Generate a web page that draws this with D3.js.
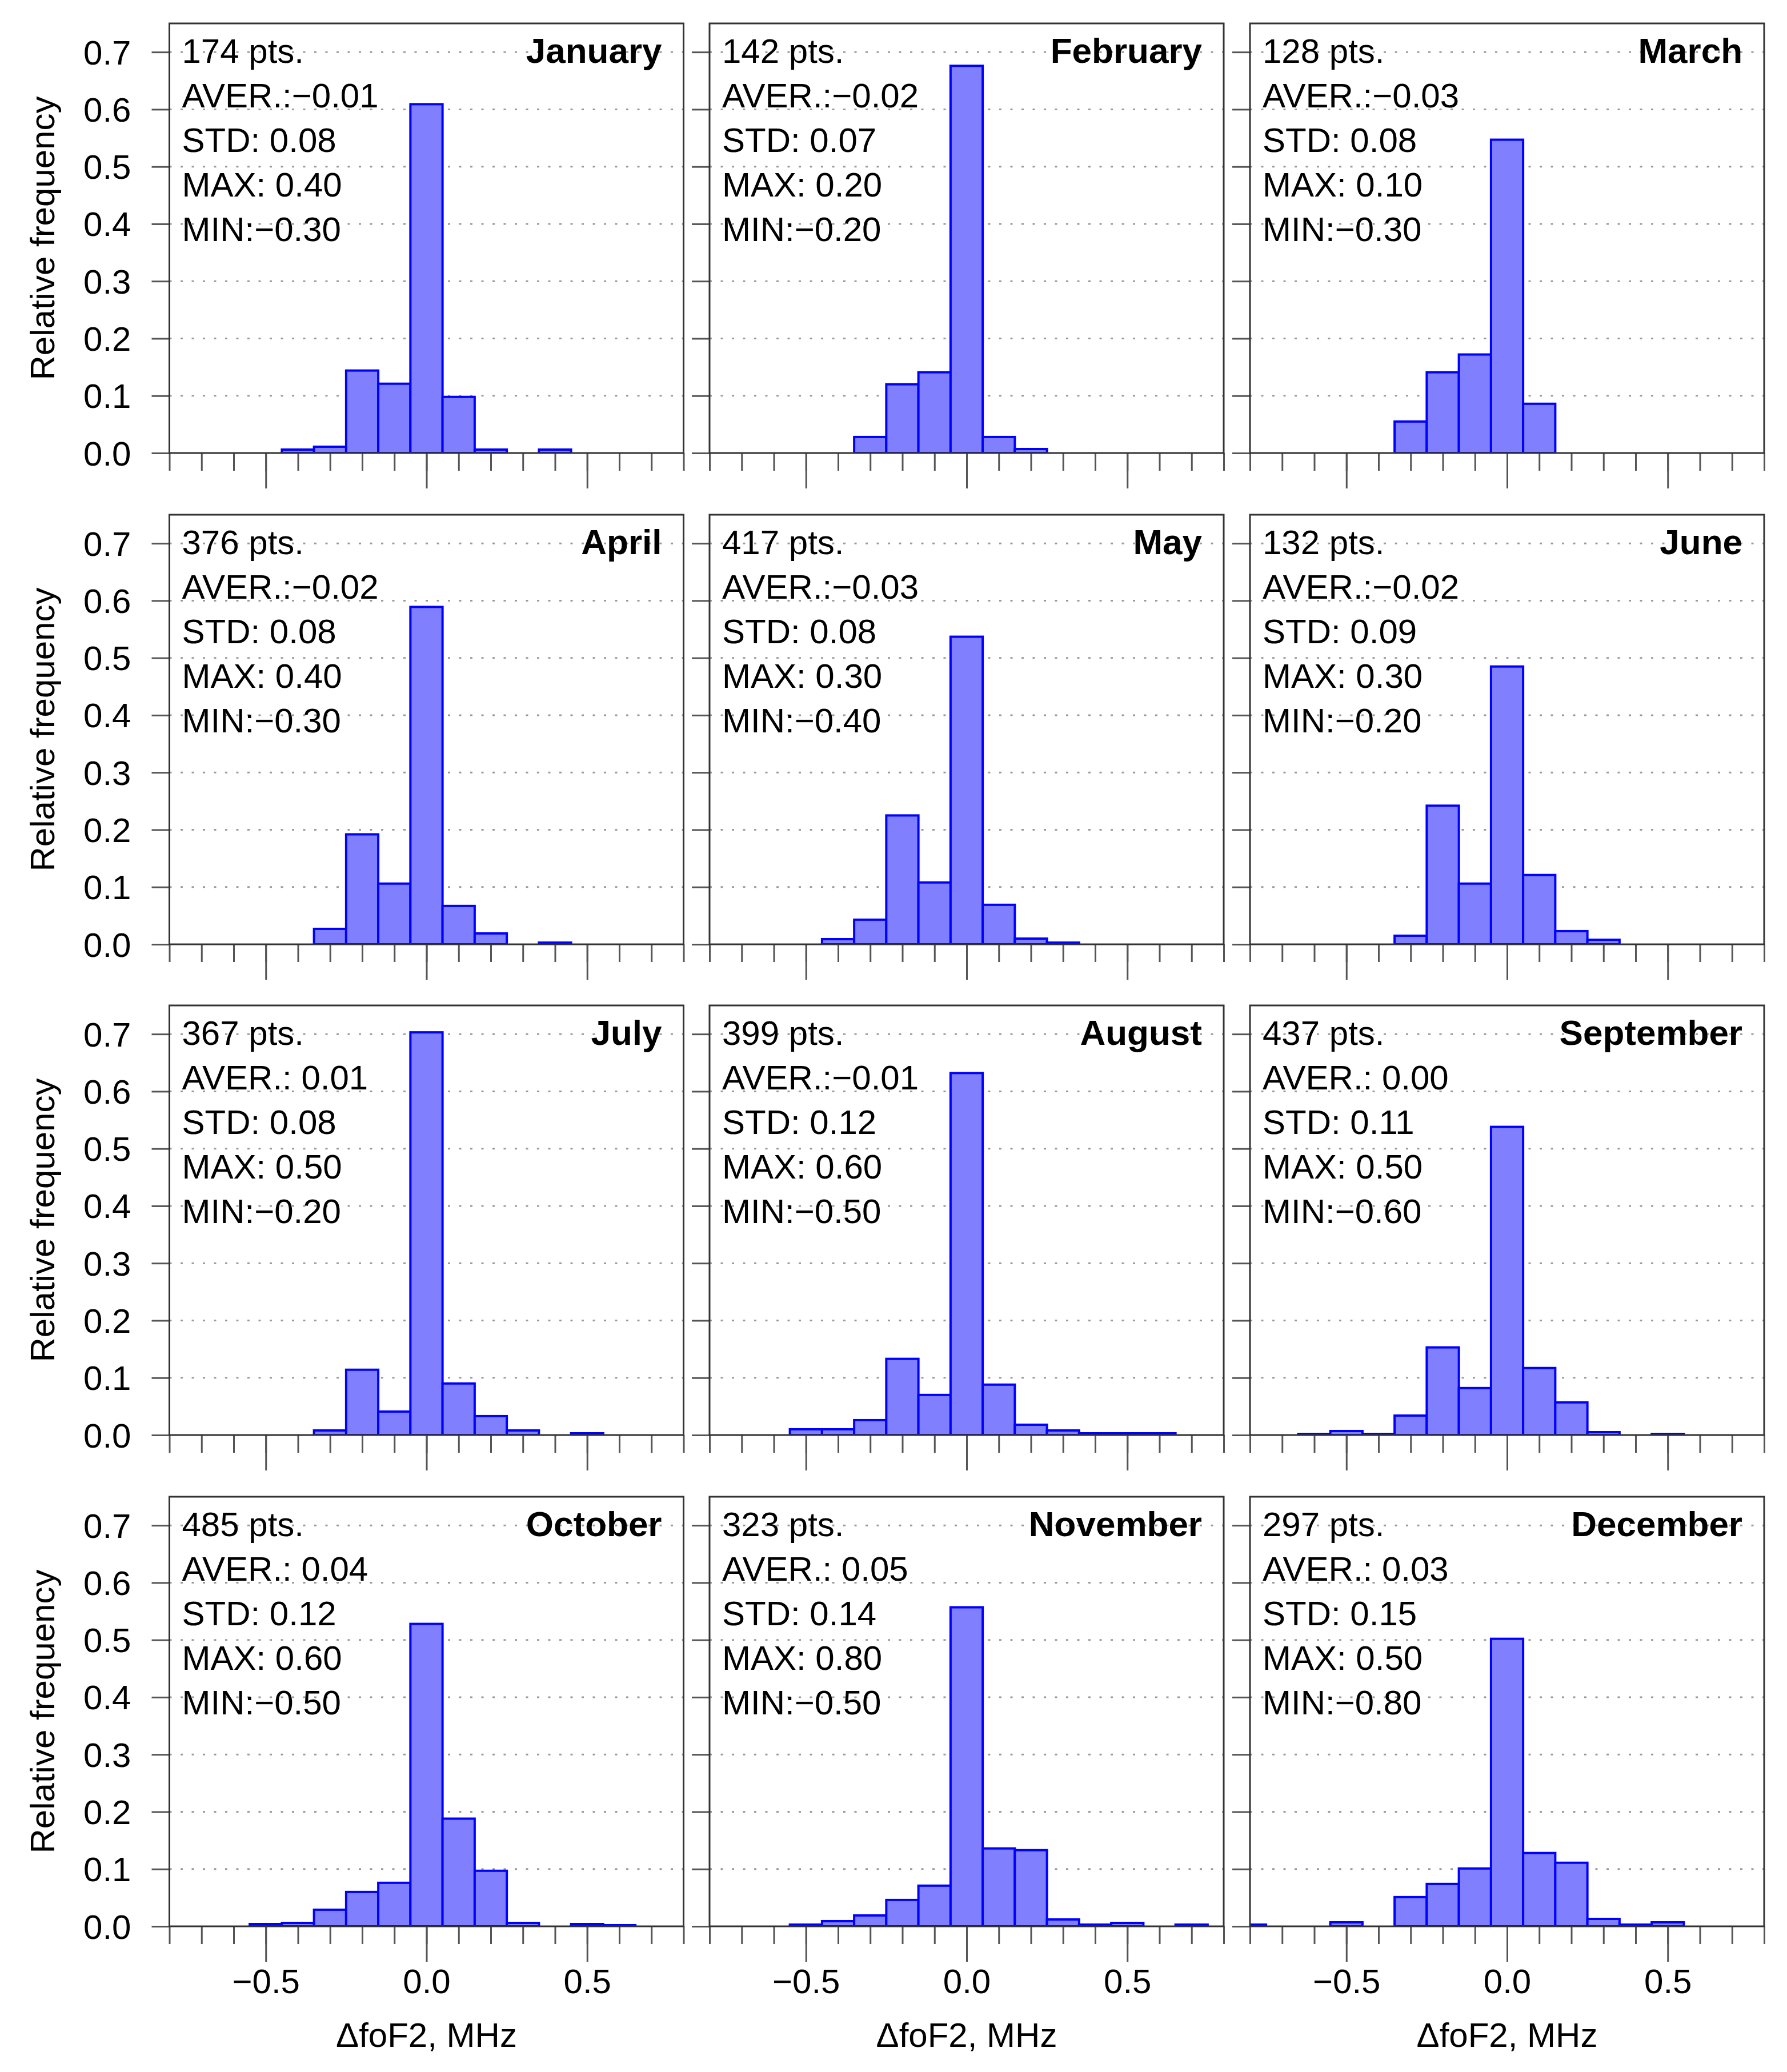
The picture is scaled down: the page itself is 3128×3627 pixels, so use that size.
<!DOCTYPE html>
<html>
<head>
<meta charset="utf-8">
<script src="https://cdn.jsdelivr.net/npm/d3@7"></script>
<style>
  html, body { margin: 0; padding: 0; background: #ffffff; }
  svg { display: block; font-family: "Liberation Sans", Arial, Helvetica, sans-serif; }
</style>
</head>
<body>
<svg id="chart" width="3128" height="3627"></svg>
<script>
// ---------------- DATA ----------------
const months = ["January","February","March","April","May","June",
                "July","August","September","October","November","December"];
const pts  = [174,142,128,376,417,132,367,399,437,485,323,297];
const aver = [-0.01,-0.02,-0.03,-0.02,-0.03,-0.02,0.01,-0.01,0.00,0.04,0.05,0.03];
const stdv = [0.08,0.07,0.08,0.08,0.08,0.09,0.08,0.12,0.11,0.12,0.14,0.15];
const maxv = [0.40,0.20,0.10,0.40,0.30,0.30,0.50,0.60,0.50,0.60,0.80,0.50];
const minv = [-0.30,-0.20,-0.30,-0.30,-0.40,-0.20,-0.20,-0.50,-0.60,-0.50,-0.50,-0.80];

// histogram bin centres (MHz), bin width 0.1
const binCenters = [-0.8,-0.7,-0.6,-0.5,-0.4,-0.3,-0.2,-0.1,0.0,0.1,0.2,0.3,0.4,0.5,0.6,0.7,0.8];
const binWidth = 0.1;

// relative frequency per bin, one array per month
const freqJan = [0,0,0,0,0.006,0.011,0.144,0.121,0.609,0.098,0.006,0,0.006,0,0,0,0];
const freqFeb = [0,0,0,0,0,0.028,0.120,0.141,0.676,0.028,0.007,0,0,0,0,0,0];
const freqMar = [0,0,0,0,0,0.055,0.141,0.172,0.547,0.086,0,0,0,0,0,0,0];
const freqApr = [0,0,0,0,0,0.027,0.192,0.106,0.589,0.067,0.019,0,0.003,0,0,0,0];
const freqMay = [0,0,0,0,0.009,0.043,0.225,0.108,0.537,0.069,0.010,0.003,0,0,0,0,0];
const freqJun = [0,0,0,0,0,0.015,0.242,0.106,0.485,0.121,0.023,0.008,0,0,0,0,0];
const freqJul = [0,0,0,0,0,0.008,0.114,0.041,0.703,0.090,0.033,0.008,0,0.003,0,0,0];
const freqAug = [0,0,0,0.010,0.010,0.026,0.133,0.070,0.632,0.088,0.018,0.008,0.003,0.003,0.003,0,0];
const freqSep = [0,0,0.002,0.007,0.002,0.034,0.153,0.082,0.538,0.117,0.057,0.005,0,0.002,0,0,0];
const freqOct = [0,0,0,0.004,0.006,0.029,0.060,0.076,0.528,0.188,0.097,0.006,0,0.004,0.002,0,0];
const freqNov = [0,0,0,0.003,0.009,0.019,0.046,0.071,0.557,0.136,0.133,0.012,0.003,0.006,0,0.003,0];
const freqDec = [0.003,0,0,0.007,0,0.051,0.074,0.101,0.502,0.128,0.111,0.013,0.003,0.007,0,0,0];
const freqs = [freqJan,freqFeb,freqMar,freqApr,freqMay,freqJun,freqJul,freqAug,freqSep,freqOct,freqNov,freqDec];

// axes
const xDomain = [-0.8, 0.8];
const yDomain = [0, 0.75];
const xMinorTicks = [-0.8,-0.7,-0.6,-0.5,-0.4,-0.3,-0.2,-0.1,0.0,0.1,0.2,0.3,0.4,0.5,0.6,0.7,0.8];
const xMajorTicks = [-0.5, 0.0, 0.5];
const yTicks = [0.0,0.1,0.2,0.3,0.4,0.5,0.6,0.7];
const yLabel = "Relative frequency";
const xLabel = "ΔfoF2, MHz";

// ---------------- LAYOUT ----------------
const colLeft = [296.5, 1242, 2188];
const rowTop  = [41, 901, 1760, 2620];
const panelW = 900, panelH = 752;
const FS = 60;

const svg = d3.select("#chart");
const defs = svg.append("defs");

const fmtStat = v => (v < 0 ? "\u2212" : " ") + Math.abs(v).toFixed(2);

months.forEach((m, i) => {
  const r = Math.floor(i / 3), c = i % 3;
  const left = colLeft[c], top = rowTop[r];
  const right = left + panelW, bottom = top + panelH;

  const x = d3.scaleLinear().domain(xDomain).range([left, right]);
  const y = d3.scaleLinear().domain(yDomain).range([bottom, top]);

  const g = svg.append("g");

  // clip
  const cid = "clip" + i;
  defs.append("clipPath").attr("id", cid)
    .append("rect").attr("x", left).attr("y", top).attr("width", panelW).attr("height", panelH);

  // grid (dotted)
  g.append("g").selectAll("line").data(yTicks.filter(t => t > 0)).join("line")
    .attr("x1", left).attr("x2", right)
    .attr("y1", d => y(d)).attr("y2", d => y(d))
    .attr("stroke", "#9a9a9a").attr("stroke-width", 3)
    .attr("stroke-dasharray", "4,15.5");

  // bars
  const bins = binCenters.map((b, k) => ({c: b, f: freqs[i][k]})).filter(d => d.f > 0);
  g.append("g").attr("clip-path", `url(#${cid})`)
    .selectAll("rect").data(bins).join("rect")
    .attr("x", d => x(d.c - binWidth / 2))
    .attr("width", d => x(d.c + binWidth / 2) - x(d.c - binWidth / 2))
    .attr("y", d => y(d.f))
    .attr("height", d => y(0) - y(d.f))
    .attr("fill", "#8080ff")
    .attr("stroke", "#0000ff")
    .attr("stroke-width", 4);

  // y axis
  const ya = g.append("g").attr("transform", `translate(${left},0)`)
    .call(d3.axisLeft(y).tickValues(yTicks).tickSize(31).tickPadding(36)
      .tickFormat(c === 0 ? d3.format(".1f") : () => ""));
  ya.select(".domain").remove();
  ya.selectAll("line").attr("stroke", "#555").attr("stroke-width", 3);
  ya.attr("font-size", FS).attr("font-family", null);
  ya.selectAll("text").attr("fill", "#000").attr("dy", "0.35em");

  // x axis minor ticks
  const xa1 = g.append("g").attr("transform", `translate(0,${bottom})`)
    .call(d3.axisBottom(x).tickValues(xMinorTicks).tickSize(31).tickFormat(() => ""));
  xa1.select(".domain").remove();
  xa1.selectAll("line").attr("stroke", "#555").attr("stroke-width", 3);

  // x axis major ticks
  const xa2 = g.append("g").attr("transform", `translate(0,${bottom})`)
    .call(d3.axisBottom(x).tickValues(xMajorTicks).tickSize(62).tickPadding(12)
      .tickFormat(r === 3 ? d3.format(".1f") : () => ""));
  xa2.select(".domain").remove();
  xa2.selectAll("line").attr("stroke", "#555").attr("stroke-width", 3);
  xa2.attr("font-size", FS).attr("font-family", null);
  xa2.selectAll("text").attr("fill", "#000");

  // panel box
  g.append("rect").attr("x", left).attr("y", top).attr("width", panelW).attr("height", panelH)
    .attr("fill", "none").attr("stroke", "#333").attr("stroke-width", 3);

  // stats text
  const lines = [
    `${pts[i]} pts.`,
    "AVER.:" + fmtStat(aver[i]),
    "STD:" + fmtStat(stdv[i]),
    "MAX:" + fmtStat(maxv[i]),
    "MIN:" + fmtStat(minv[i])
  ];
  g.append("g").selectAll("text").data(lines).join("text")
    .attr("x", left + 22)
    .attr("y", (d, k) => top + 69 + k * 78)
    .attr("font-size", FS)
    .attr("fill", "#000")
    .style("white-space", "pre")
    .text(d => d);

  // month title
  g.append("text")
    .attr("x", right - 38).attr("y", top + 69)
    .attr("text-anchor", "end")
    .attr("font-size", 62).attr("font-weight", "bold")
    .attr("fill", "#000")
    .text(m);

  // y label
  if (c === 0) {
    g.append("text")
      .attr("transform", `translate(${left - 202},${(top + bottom) / 2}) rotate(-90)`)
      .attr("text-anchor", "middle")
      .attr("font-size", FS).attr("fill", "#000")
      .text(yLabel);
  }
  // x label
  if (r === 3) {
    g.append("text")
      .attr("x", (left + right) / 2).attr("y", bottom + 211)
      .attr("text-anchor", "middle")
      .attr("font-size", FS).attr("fill", "#000")
      .text(xLabel);
  }
});
</script>
</body>
</html>
